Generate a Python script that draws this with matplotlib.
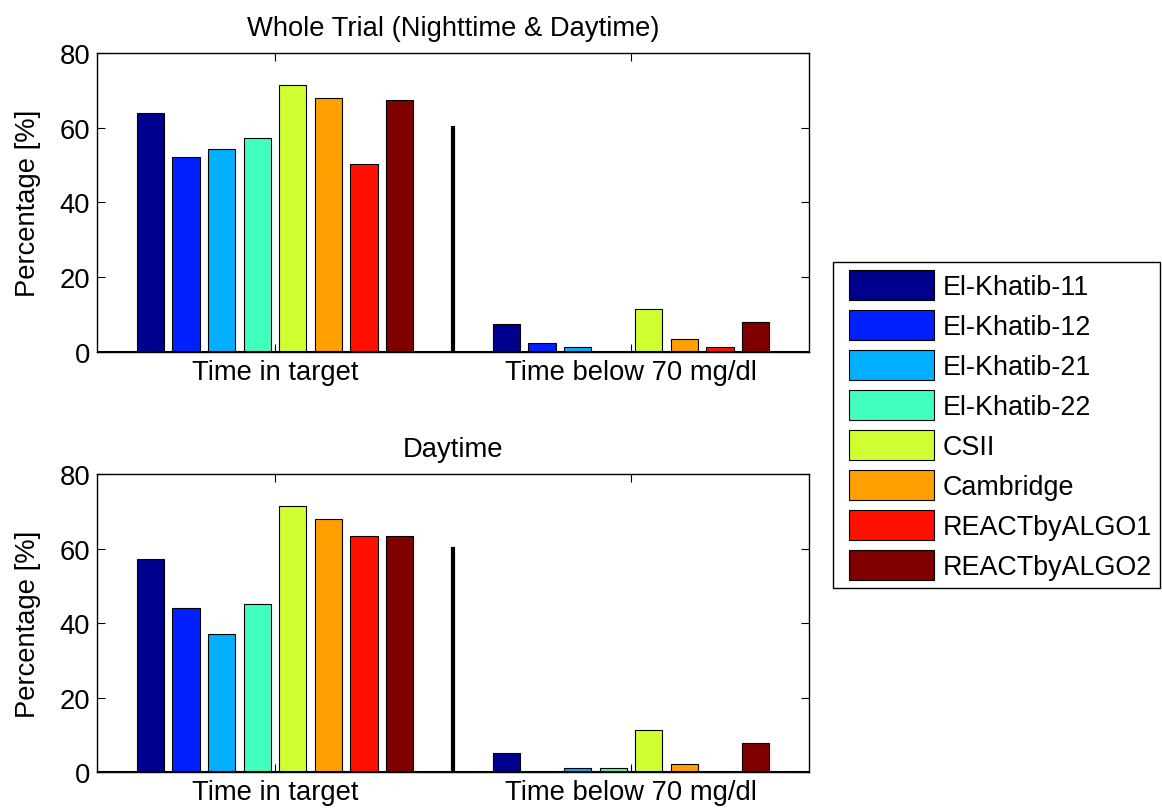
import numpy as np
import matplotlib
matplotlib.use('Agg')
import matplotlib.pyplot as plt
from matplotlib.patches import Rectangle

plt.rcParams['font.family'] = ['Liberation Sans', 'DejaVu Sans']

# data
groups = ['Time in target', 'Time below 70 mg/dl']
methods = ['El-Khatib-11', 'El-Khatib-12', 'El-Khatib-21', 'El-Khatib-22',
           'CSII', 'Cambridge', 'REACTbyALGO1', 'REACTbyALGO2']
whole_target = [64.0, 52.1, 54.3, 57.2, 71.4, 68.0, 50.4, 67.5]
whole_below = [7.4, 2.3, 1.2, 0.0, 11.5, 3.4, 1.2, 8.0]
day_target = [57.1, 43.9, 37.1, 45.0, 71.3, 67.9, 63.3, 63.3]
day_below = [5.1, 0.0, 1.1, 1.1, 11.3, 2.2, 0.0, 7.9]
divider_height = 60
titles = ['Whole Trial (Nighttime & Daytime)', 'Daytime']

# MATLAB jet(64) samples used by bar()
colors = ['#00008F', '#0020FF', '#00AFFF', '#40FFBF',
          '#CFFF30', '#FF9F00', '#FF1000', '#800000']

fs = 19.7
W, H = 1162, 812

fig = plt.figure(figsize=(W / 100, H / 100), dpi=100)
ax_top = fig.add_axes([0.0835, 0.5653, 0.6127, 0.3682])
ax_bot = fig.add_axes([0.0835, 0.0480, 0.6127, 0.3670])

x = np.arange(1, len(groups) + 1)
width = 0.076
step = 0.1

for ax, target, below, title in [(ax_top, whole_target, whole_below, titles[0]),
                                 (ax_bot, day_target, day_below, titles[1])]:
    vals = np.array([target, below])  # groups x methods
    for i, name in enumerate(methods):
        ax.bar(x + (i - 3.5) * step, vals[:, i], width=width, color=colors[i],
               edgecolor='black', linewidth=0.8, label=name, zorder=2)
    ax.plot([1.5, 1.5], [0, divider_height], color='black', lw=3, zorder=3)
    ax.axhline(0, color='black', lw=1.5, zorder=4)
    ax.set_xlim(0.5, 2.5)
    ax.set_ylim(0, 80)
    ax.set_yticks([0, 20, 40, 60, 80])
    ax.set_xticks(x)
    ax.set_xticklabels(groups)
    ax.tick_params(direction='in', length=6, width=0.8, labelsize=fs,
                   top=True, right=True, pad=5)
    ax.tick_params(axis='x', pad=5)
    for s in ax.spines.values():
        s.set_linewidth(1.0)
    ax.set_ylabel('Percentage [%]', fontsize=fs, labelpad=13)
    ax.set_title(title, fontsize=fs, pad=13)

# legend frame drawn separately so the padding can differ per side
fig.patches.append(Rectangle((833 / W, 1 - 589 / H), (1160 - 833) / W, (589 - 263) / H,
                             transform=fig.transFigure, facecolor='white',
                             edgecolor='black', linewidth=1.0, zorder=5))
handles, labels = ax_top.get_legend_handles_labels()
leg = fig.legend(handles, labels, loc='upper left',
                 bbox_to_anchor=(849 / W, 1 - 271 / H),
                 fontsize=19.4, handlelength=3.16, handleheight=1.34,
                 labelspacing=0.37, handletextpad=0.33, borderpad=0,
                 borderaxespad=0, frameon=False)
leg.set_zorder(6)

fig.savefig('out.png', dpi=100)
